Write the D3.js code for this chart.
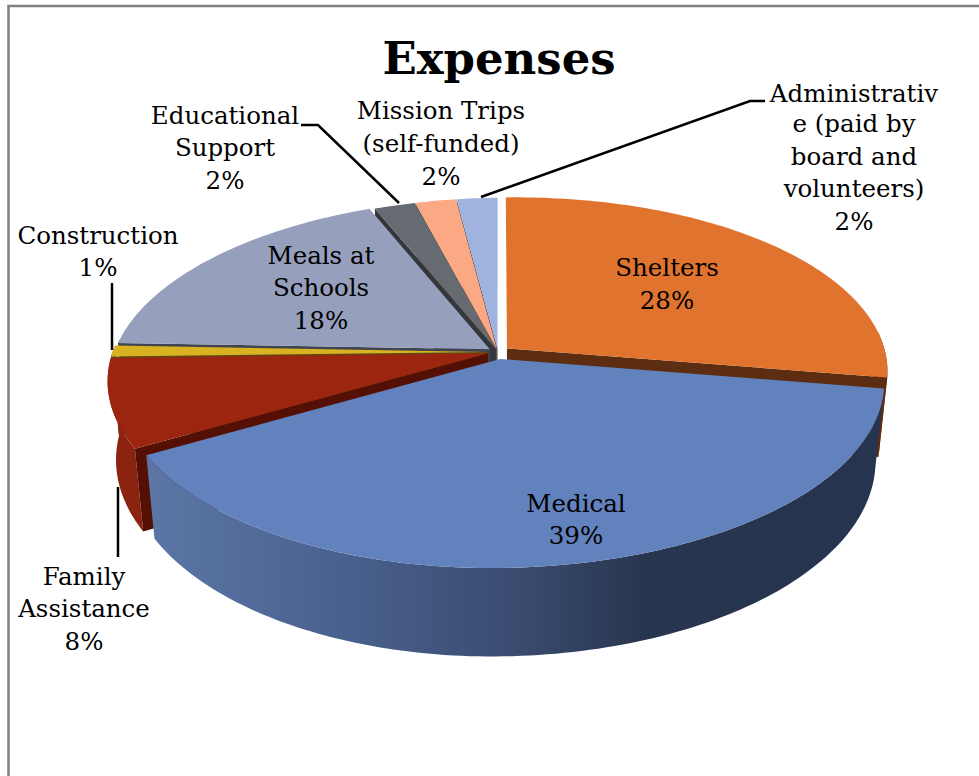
<!DOCTYPE html>
<html>
<head>
<meta charset="utf-8">
<script src="https://cdnjs.cloudflare.com/ajax/libs/d3/7.8.5/d3.min.js"></script>
<style>
  html, body { margin: 0; padding: 0; background: #fff; }
  svg { display: block; }
  text { font-family: "DejaVu Serif", serif; fill: #000; }
</style>
</head>
<body>
<svg id="chart" width="979" height="776"></svg>
<script>
// Expense shares, in drawing order clockwise from twelve o'clock.
const categories = ["Shelters", "Medical", "Family Assistance", "Construction",
  "Meals at Schools", "Educational Support", "Mission Trips (self-funded)", "Administrative (paid by board and volunteers)"];
const shares = [28, 39, 8, 1, 18, 2, 2, 2];
const topColors = ["#E0742F", "#6282BD", "#9C2510", "#D9B221", "#969FBB", "#666B71", "#FBA884", "#A0B3DF"];
const rimColors = ["#6B3512", "url(#medicalWall)", "#8A2410", "#7d6614", "#5d6479", "#3c3f44", "#a06a52", "#5f6b86"];
const cutColors = ["#5C2D10", "#2d3a58", "#551005", "#5b4a10", "#3F4450", "#33363B", "#7a5040", "#49536c"];
const title = "Expenses";
const labelLines = [
  ["Shelters", "28%"],
  ["Medical", "39%"],
  ["Family", "Assistance", "8%"],
  ["Construction", "1%"],
  ["Meals at", "Schools", "18%"],
  ["Educational", "Support", "2%"],
  ["Mission Trips", "(self-funded)", "2%"],
  ["Administrativ", "e (paid by", "board and", "volunteers)", "2%"]
];

// Slices are pulled out of the pie by a fraction of its radius.
const explode = [0.031, 0.04, 0.027, 0.027, 0.027, 0.018, 0.018, 0.018];
const paintOrder = [7, 6, 5, 4, 3, 2, 0, 1];

// Perspective camera: a unit disc on the ground plane maps through these scales.
const tilt = 0.152;
const roll = -0.012;
const frontLeftPull = 10;
const centerX = 498;
const sx = d3.scaleLinear().domain([-1, 1]).range([centerX - 377, centerX + 377]);
const sy = d3.scaleLinear().domain([-1, 1]).range([352 - 175, 352 + 175]);
const vanish = { x: 490, y: 3987 };

function project(u, v) {
  const w = 1 - tilt * v;
  const x = sx(u / w) + frontLeftPull * Math.max(v, 0) * Math.max(-u, 0);
  return { x, y: sy(v / w) + roll * (x - centerX), v };
}
function lower(p) {
  const h = 78 + 10 * p.v;
  return { x: p.x + (vanish.x - p.x) * h / (vanish.y - p.y), y: p.y + h, v: p.v };
}

const svg = d3.select("#chart");
const defs = svg.append("defs");
const grad = defs.append("linearGradient").attr("id", "medicalWall")
  .attr("gradientUnits", "userSpaceOnUse").attr("x1", 150).attr("x2", 880).attr("y1", 0).attr("y2", 0);
[[0, "#5B76A6"], [0.25, "#4A6290"], [0.5, "#3A4C70"], [0.68, "#28354F"], [1, "#27344F"]]
  .forEach(([o, c]) => grad.append("stop").attr("offset", o).attr("stop-color", c));

// Page frame
svg.append("path").attr("d", "M8.5,776V6H979").attr("fill", "none")
  .attr("stroke", "#808080").attr("stroke-width", 2.5);

const arcs = d3.pie().sort(null).value(d => d)(shares);
const outline = d3.line().x(d => d.x).y(d => d.y);

const slices = arcs.map((a, i) => {
  const mid = (a.startAngle + a.endAngle) / 2;
  const du = explode[i] * Math.sin(mid), dv = -explode[i] * Math.cos(mid);
  const apex = project(du, dv);
  const steps = Math.max(2, Math.ceil((a.endAngle - a.startAngle) / 0.02));
  const rim = d3.range(steps + 1).map(k => {
    const t = a.startAngle + (a.endAngle - a.startAngle) * k / steps;
    return project(du + Math.sin(t), dv - Math.cos(t));
  });
  return { i, apex, rim };
});

const body = svg.append("g");
paintOrder.forEach(i => {
  const s = slices[i];
  const first = s.rim[0], last = s.rim[s.rim.length - 1];
  const g = body.append("g");
  // Outer wall, only where the rim faces the viewer
  const facing = s.rim.filter(p => p.v > -0.1);
  if (facing.length > 1) {
    g.append("path").attr("fill", rimColors[i])
      .attr("d", outline(facing.concat(facing.map(lower).reverse())) + "Z");
  }
  // Cut faces that turn towards the viewer
  if (i === 0) {
    g.append("path").attr("fill", cutColors[i])
      .attr("d", outline([s.apex, last, lower(last), lower(s.apex)]) + "Z");
  } else if (i !== 1) {
    g.append("path").attr("fill", cutColors[i])
      .attr("d", outline([s.apex, first, lower(first), lower(s.apex)]) + "Z");
  }
  // Top face
  g.append("path").attr("fill", topColors[i])
    .attr("d", outline([s.apex].concat(s.rim)) + "Z");
});

// Leader lines from outside labels to their slices
const leaders = [
  [[112, 283], [112, 350]],
  [[118, 487], [118, 557]],
  [[301, 125], [318, 125], [399, 203]],
  [[765, 101], [750, 101], [481, 197]]
];
svg.append("g").selectAll("path").data(leaders).join("path")
  .attr("d", d3.line()).attr("fill", "none").attr("stroke", "#000").attr("stroke-width", 2.5);

// Title and labels
svg.append("text").attr("x", 499).attr("y", 74).attr("text-anchor", "middle")
  .attr("font-size", 45).attr("font-weight", "bold").text(title);

const labelAnchors = [
  { x: 667, y: [276, 309] },
  { x: 576, y: [512, 544] },
  { x: 84, y: [585, 617, 650] },
  { x: 98, y: [244, 276] },
  { x: 321, y: [264, 296, 329] },
  { x: 225, y: [124, 156, 189] },
  { x: 441, y: [119, 152, 185] },
  { x: 854, y: [102, 132, 165, 197, 230] }
];
const labels = svg.append("g").attr("font-size", 24.5).attr("text-anchor", "middle");
labelLines.forEach((lines, i) => {
  lines.forEach((line, k) => {
    labels.append("text").attr("x", labelAnchors[i].x).attr("y", labelAnchors[i].y[k]).text(line);
  });
});
</script>
</body>
</html>
